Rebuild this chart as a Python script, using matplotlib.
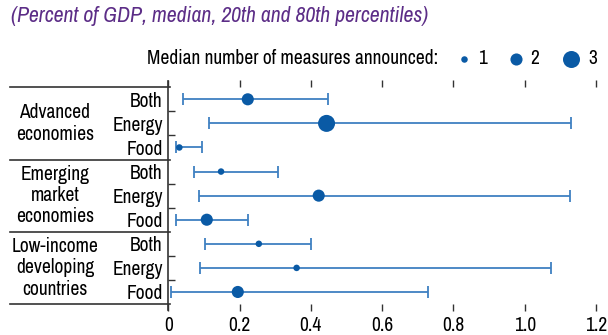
import matplotlib
matplotlib.use("Agg")
import matplotlib.pyplot as plt

plt.rcParams['font.family'] = ['Archivo Narrow', 'DejaVu Sans']

# Values (percent of GDP): median, 20th and 80th percentiles, and median number of measures
groups = ["Advanced\neconomies", "Emerging\nmarket\neconomies", "Low-income\ndeveloping\ncountries"]
measures = ["Both", "Energy", "Food"]
median = [0.223, 0.444, 0.031, 0.148, 0.422, 0.108, 0.254, 0.360, 0.195]
p20 = [0.040, 0.115, 0.021, 0.073, 0.087, 0.021, 0.103, 0.089, 0.008]
p80 = [0.449, 1.129, 0.094, 0.309, 1.126, 0.224, 0.401, 1.074, 0.730]
n_measures = [2, 3, 1, 1, 2, 2, 1, 1, 2]
xticks = [0, 0.2, 0.4, 0.6, 0.8, 1.0, 1.2]
xticklabels = ["0", "0.2", "0.4", "0.6", "0.8", "1.0", "1.2"]

dot_color = "#0a5aa5"
bar_color = "#3f80c2"
line_color = "#333333"
purple = "#5c2d87"
fs = 14

# marker area for 1, 2, 3 measures
size_for = {1: 22, 2: 76, 3: 150}

fig = plt.figure(figsize=(6.08, 3.35), dpi=100)
ax = fig.add_axes([0.2768, 0.0925, 0.7035, 0.647])

rows = list(range(len(median)))
xerr = [[m - lo for m, lo in zip(median, p20)], [hi - m for m, hi in zip(median, p80)]]
ax.errorbar(median, rows, xerr=xerr, fmt="none", ecolor=bar_color,
            elinewidth=1.3, capsize=4.4, capthick=1.3, zorder=2)
ax.scatter(median, rows, s=[size_for[n] for n in n_measures],
           color=dot_color, linewidths=0, zorder=3)

ax.set_xlim(0, 1.2)
ax.set_ylim(8.5, -0.5)
for side in ["top", "right", "bottom", "left"]:
    ax.spines[side].set_visible(False)

ax.set_xticks(xticks)
ax.set_xticklabels(xticklabels, fontsize=fs)
ax.tick_params(axis="x", which="major", direction="out", length=4.8, width=1,
               color=line_color, top=True, bottom=True, labeltop=False, pad=4)

ax.set_yticks(rows)
ax.set_yticklabels(measures * 3, fontsize=fs)
ax.tick_params(axis="y", which="major", length=0, pad=4)
ax.set_yticks([0.5, 1.5, 3.5, 4.5, 6.5, 7.5], minor=True)
ax.tick_params(axis="y", which="minor", direction="in", length=5.2, width=1,
               color=line_color)

# extended left axis line and group separators
yt = ax.get_yaxis_transform()
ax.plot([0, 0], [-0.77, 8.75], transform=yt, color=line_color, lw=1.2, clip_on=False)
for yb in [-0.5, 2.5, 5.5, 8.5]:
    ax.plot([-0.37, 0.004], [yb, yb], transform=yt, color=line_color, lw=1.2,
            clip_on=False)

for i, g in enumerate(groups):
    ax.text(-0.265, 3 * i + 1, g, transform=yt, ha="center", va="center",
            fontsize=fs, linespacing=1.15)

# subtitle
fig.text(11 / 608, 1 - 16.5 / 335, "(Percent of GDP, median, 20th and 80th percentiles)",
         ha="left", va="center", fontsize=15.7, style="italic", color=purple)

# size legend
ly = 1 - 59 / 335
fig.text(438 / 608, ly, "Median number of measures announced:", ha="right",
         va="center", fontsize=fs)
for n, mx, tx in [(1, 464, 478), (2, 516, 530), (3, 571, 588)]:
    ax.scatter([mx / 608], [ly], s=size_for[n], color=dot_color, linewidths=0,
               transform=fig.transFigure, clip_on=False)
    fig.text(tx / 608, ly, str(n), ha="left", va="center", fontsize=fs)

fig.savefig("out.png", dpi=100)
